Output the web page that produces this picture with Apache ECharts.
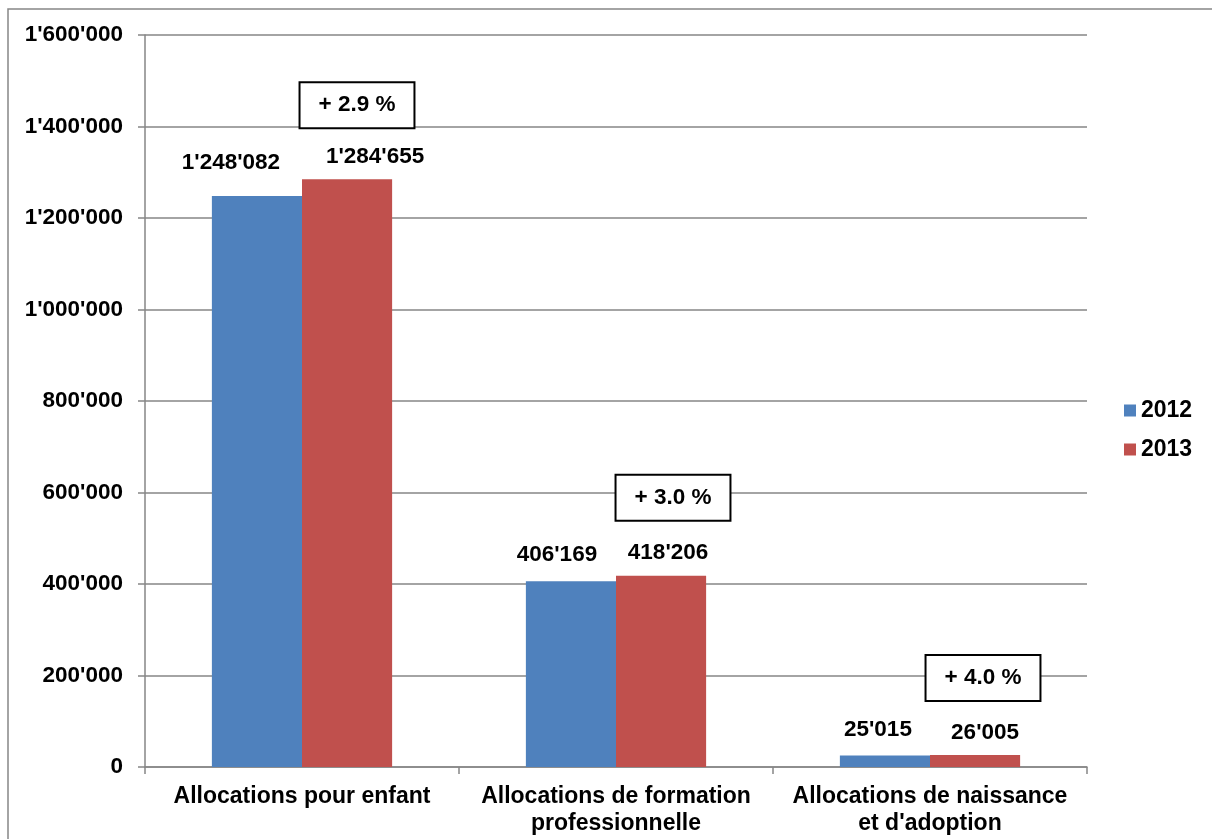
<!DOCTYPE html>
<html>
<head>
<meta charset="utf-8">
<script src="https://cdn.jsdelivr.net/npm/echarts@6/dist/echarts.min.js"></script>
<style>html,body{margin:0;padding:0;background:#fff;}#c{width:1212px;height:839px;}</style>
</head>
<body>
<div id="c"></div>
<script>
var categories = ['Allocations pour enfant', 'Allocations de formation\nprofessionnelle', 'Allocations de naissance\net d\'adoption'];
var values2012 = [1248082, 406169, 25015];
var values2013 = [1284655, 418206, 26005];
var changeLabels = ['+ 2.9 %', '+ 3.0 %', '+ 4.0 %'];
var yTicks = [0, 200000, 400000, 600000, 800000, 1000000, 1200000, 1400000, 1600000];

function fmt(v) {
  return String(v).replace(/\B(?=(\d{3})+(?!\d))/g, "'");
}

var FONT = '"Liberation Sans", Arial, sans-serif';
var FS = 22.5;
var blueOffsets = [[-26, -8], [-14, -1], [-7, 0]];
var redOffsets = [[28, 0], [7, 0], [10, 0]];
var boxOffsets = [[55, -74], [57, -78], [53, -77]];

var chart = echarts.init(document.getElementById('c'));
chart.setOption({
  animation: false,
  textStyle: { fontFamily: FONT },
  graphic: [{
    type: 'rect',
    shape: { x: 8, y: 9, width: 1400, height: 1000 },
    style: { fill: 'none', stroke: '#868686', lineWidth: 1.5 },
    silent: true
  }],
  grid: { left: 145, right: 125, top: 35, bottom: 72 },
  legend: {
    data: ['2012', '2013'],
    orient: 'vertical',
    left: 1119,
    top: 394,
    itemWidth: 12,
    itemHeight: 12,
    itemGap: 16,
    icon: 'rect',
    textStyle: { fontSize: 23, fontWeight: 'bold', color: '#000', fontFamily: FONT }
  },
  xAxis: {
    type: 'category',
    data: categories,
    axisLine: { lineStyle: { color: '#868686', width: 1.5 } },
    axisTick: { show: true, length: 7, lineStyle: { color: '#868686', width: 1.5 } },
    axisLabel: { color: '#000', fontSize: 23, fontWeight: 'bold', margin: 16, lineHeight: 27, fontFamily: FONT, interval: 0 }
  },
  yAxis: {
    type: 'value',
    min: 0,
    max: 1600000,
    interval: 200000,
    axisLine: { show: true, lineStyle: { color: '#868686', width: 1.5 } },
    axisTick: { show: true, length: 7, lineStyle: { color: '#868686', width: 1.5 } },
    splitLine: { lineStyle: { color: '#868686', width: 1.5 } },
    axisLabel: {
      color: '#000', fontSize: FS, fontWeight: 'bold', margin: 22, fontFamily: FONT,
      formatter: function (v) { return yTicks.indexOf(v) >= 0 ? fmt(v) : ''; }
    }
  },
  series: [
    {
      name: '2012',
      type: 'bar',
      barGap: '0%',
      barCategoryGap: '42.6%',
      itemStyle: { color: '#4F81BD' },
      data: values2012.map(function (v, i) {
        return { value: v, label: { offset: blueOffsets[i] } };
      }),
      label: {
        show: true, position: 'top', distance: 14, color: '#000', fontSize: FS, fontWeight: 'bold', fontFamily: FONT,
        formatter: function (p) { return fmt(p.value); }
      }
    },
    {
      name: '2013',
      type: 'bar',
      itemStyle: { color: '#C0504D' },
      data: values2013.map(function (v, i) {
        return { value: v, label: { offset: redOffsets[i] } };
      }),
      label: {
        show: true, position: 'top', distance: 11, color: '#000', fontSize: FS, fontWeight: 'bold', fontFamily: FONT,
        formatter: function (p) { return fmt(p.value); }
      }
    },
    {
      name: 'change',
      type: 'scatter',
      symbol: 'rect',
      symbolSize: 0,
      silent: true,
      z: 5,
      itemStyle: { color: 'transparent', borderWidth: 0, shadowBlur: 0, opacity: 1 },
      emphasis: { disabled: true },
      data: values2013.map(function (v, i) {
        return { value: [i, v], label: { offset: boxOffsets[i] } };
      }),
      label: {
        show: true,
        position: 'inside',
        color: '#000',
        opacity: 1,
        fontSize: FS,
        fontWeight: 'bold',
        fontFamily: FONT,
        lineHeight: 20,
        textBorderWidth: 0,
        textBorderColor: 'transparent',
        textShadowBlur: 0,
        textShadowColor: 'transparent',
        backgroundColor: '#fff',
        borderColor: '#000',
        borderWidth: 2,
        padding: [12, 18],
        formatter: function (p) { return changeLabels[p.dataIndex]; }
      }
    }
  ]
});
</script>
</body>
</html>
